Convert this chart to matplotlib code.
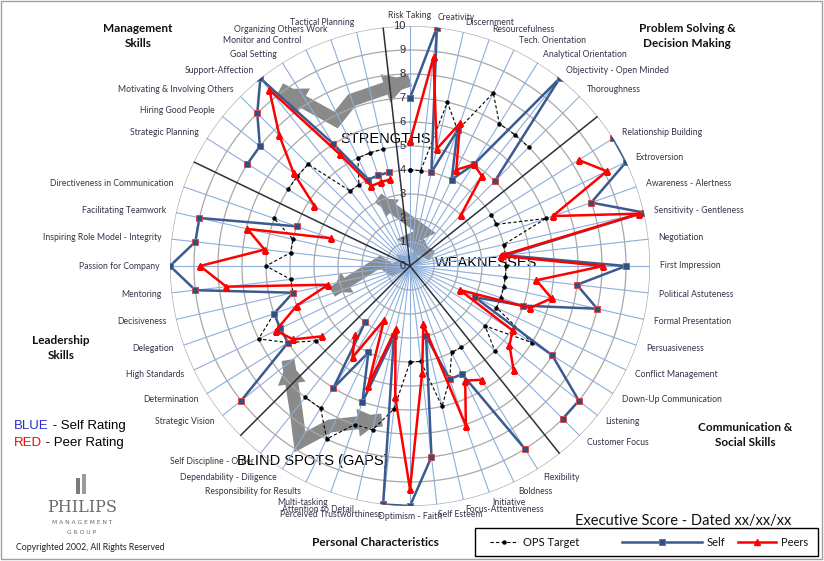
import numpy as np
import matplotlib.pyplot as plt
from matplotlib.patches import Polygon, Rectangle
from matplotlib.lines import Line2D

nan = np.nan

# 56 spokes, the empty ones separate the skill groups
categories = ['Risk Taking', 'Creativity', 'Discernment', 'Resourcefulness', 'Tech. Orientation',
              'Analytical Orientation', 'Objectivity - Open Minded', 'Thoroughness', '',
              'Relationship Building', 'Extroversion', 'Awareness - Alertness', 'Sensitivity - Gentleness',
              'Negotiation', 'First Impression', 'Political Astuteness', 'Formal Presentation',
              'Persuasiveness', 'Conflict Management', 'Down-Up Communication', 'Listening',
              'Customer Focus', '',
              'Flexibility', 'Boldness', 'Initiative', 'Focus-Attentiveness', 'Self Esteem',
              'Optimism - Faith', 'Perceived Trustworthiness', 'Attention to Detail', 'Multi-tasking',
              'Responsibility for Results', 'Dependability - Diligence', 'Self Discipline - Order', '',
              'Strategic Vision', 'Determination', 'High Standards', 'Delegation', 'Decisiveness',
              'Mentoring', 'Passion for Company', 'Inspiring Role Model - Integrity',
              'Facilitating Teamwork', 'Directiveness in Communication', '',
              'Strategic Planning', 'Hiring Good People', 'Motivating & Involving Others',
              'Support-Affection', 'Goal Setting', 'Monitor and Control', 'Organizing Others Work',
              'Tactical Planning', '']

self_rating = [7, 10, 4, 6, 4, 5, 10, 5, nan,
               10, 10, 8, 10, 4, 9, 7, 8, 5, 3, 7, 9, 9, nan,
               9, 5, 5, 3, 8, 10, 10, 3, 6, 4, 6, 3, nan,
               9, 6, 6, 6, 5, 9, 10, 9, 9, 5, nan,
               8, 8, 9, 10, 6, 4, 4, 4, nan]

peer_rating = [5.2, 8.75, 5.0, 6.3, 4.45, 5.0, 4.8, 3.0, nan,
               8.3, 9.1, 6.3, 9.8, 3.8, 8.05, 5.3, 6.05, 5.3, 2.3, 5.05, 5.3, 6.1, nan,
               5.6, 5.3, 7.05, 2.5, 4.5, 9.3, 5.5, 2.7, 5.3, 2.5, 4.5, 3.7, nan,
               4.7, 5.75, 6.2, 5.0, 3.5, 7.7, 8.75, 6.1, 6.95, 3.5, nan,
               4.7, 6.2, 7.7, 9.4, 5.5, 3.7, 3.7, 3.7, nan]

ops_target = [4, 4, 7, 6, 8, 7, 7, 7, nan,
              4, 4, 6, 4, 4, 4, 4, 4, 4, 4, 6, 4, 5, nan,
              4, 4, 5, 6, 4, 4, 6, 7, 7, 8, 7, 7, nan,
              5, 6, 7, 6, 5, 5, 6, 5, 5, 6, nan,
              6, 6, 6, 4, 4, 5, 5, 5, nan]

n = len(categories)
theta = np.arange(n) * 2 * np.pi / n
tt = np.append(theta, theta[0])

def closed(v):
    v = np.asarray(v, dtype=float)
    return np.append(v, v[0])

fig = plt.figure(figsize=(8.24, 5.61), dpi=100)

# overlay in pixel coordinates for decorations and free text
ov = fig.add_axes([0, 0, 1, 1], zorder=0)
ov.set_xlim(0, 824)
ov.set_ylim(561, 0)
ov.axis('off')

cx, cy, R = 410, 266, 240
ax = fig.add_axes([(cx - R) / 824, 1 - (cy + R) / 561, 2 * R / 824, 2 * R / 561],
                  projection='polar', zorder=1)
ax.set_facecolor('none')
ax.set_theta_zero_location('N')
ax.set_theta_direction(-1)
ax.set_ylim(0, 10)
ax.grid(False)
ax.set_xticks([])
ax.set_yticks([])
ax.spines['polar'].set_visible(False)

circ = np.linspace(0, 2 * np.pi, 400)
for r in range(1, 11):
    ax.plot(circ, np.full_like(circ, r), color='#a8a8a8', lw=0.9, zorder=1)
for i, t in enumerate(theta):
    if categories[i]:
        ax.plot([t, t], [0, 10], color='#8eaedb', lw=0.8, zorder=1)
    else:
        ax.plot([t, t], [0, 10], color='#2a313d', lw=1.1, zorder=2)

for v in range(11):
    ax.annotate(str(v), xy=(0, v), xytext=(-3, 0), textcoords='offset points',
                ha='right', va='center', fontsize=8, color='#2a2a3a', family='Liberation Sans')

for i, t in enumerate(theta):
    if not categories[i]:
        continue
    s = np.sin(t)
    ha = 'center' if abs(s) < 0.03 else ('left' if s > 0 else 'right')
    ax.text(t, 10.42, categories[i], ha=ha, va='center', fontsize=6.2,
            color='#3a3048', family='Lato')

ops_style = dict(color='black', ls=(0, (3, 2)), lw=0.8, marker='o', ms=2.2)
self_style = dict(color='#3a5a90', lw=1.8, marker='s', ms=4.8, mfc='#2f4f85',
                  mec='#d05050', mew=0.7)
peer_style = dict(color='#ff0000', lw=1.8, marker='^', ms=5, mfc='#ff0000', mec='#ff0000')

ax.plot(tt, closed(ops_target), zorder=3, **ops_style)
ax.plot(tt, closed(self_rating), zorder=4, **self_style)
ax.plot(tt, closed(peer_rating), zorder=5, **peer_style)

# gray "lightning" arrows
GRAY = '#8a8a8a'

def bolt(pts, w=11, head=(24, 20), both=True):
    pts = np.array(pts, dtype=float)
    ov.plot(pts[:, 0], pts[:, 1], color=GRAY, lw=w * 0.72, solid_joinstyle='miter',
            solid_capstyle='butt', zorder=1)
    ends = [(pts[-2], pts[-1])]
    if both:
        ends.append((pts[1], pts[0]))
    hw, hl = head
    for a, b in ends:
        d = (b - a) / np.hypot(*(b - a))
        nrm = np.array([-d[1], d[0]])
        base = b - d * hl
        ov.add_patch(Polygon([b, base + nrm * hw / 2, base - nrm * hw / 2],
                             closed=True, fc=GRAY, ec='none', zorder=1))

bolt([(280, 89), (336, 120), (352, 100), (410, 80)], w=13, head=(30, 26))
bolt([(378, 198), (425, 232), (408, 240), (432, 256)], w=11, head=(22, 18))
bolt([(332, 292), (380, 262), (392, 270), (418, 258)], w=11, head=(24, 18))
bolt([(288, 360), (296, 410), (300, 442), (330, 426), (382, 420)], w=13, head=(28, 24))

# section titles
tkw = dict(ha='center', va='center', fontsize=8.5, fontweight='bold', family='Lato', color='#111111')
ov.text(138, 36, 'Management\nSkills', linespacing=1.45, **tkw)
ov.text(687, 36, 'Problem Solving &\nDecision Making', linespacing=1.45, **tkw)
ov.text(61, 348, 'Leadership\nSkills', linespacing=1.45, **tkw)
ov.text(745, 435, 'Communication &\nSocial Skills', linespacing=1.45, **tkw)
ov.text(375, 542, 'Personal Characteristics', **tkw)

bkw = dict(fontsize=10.5, family='Liberation Sans', color='black', va='center', zorder=6)
ov.text(386, 139, 'STRENGTHS', ha='center', **bkw)
ov.text(486, 263, 'WEAKNESSES', ha='center', **bkw)
ov.text(313, 461, 'BLIND SPOTS (GAPS)', ha='center', **bkw)

lkw = dict(fontsize=9.5, family='Liberation Sans', va='center')
t1 = ov.text(14, 426, 'BLUE', color='#2b2bd0', **lkw)
ov.annotate(' - Self Rating', xycoords=t1, xy=(1, 0.5), va='center', ha='left',
            fontsize=9.5, family='Liberation Sans', color='black')
t2 = ov.text(14, 443, 'RED', color='#ff0000', **lkw)
ov.annotate(' - Peer Rating', xycoords=t2, xy=(1, 0.5), va='center', ha='left',
            fontsize=9.5, family='Liberation Sans', color='black')

ov.text(683, 521, 'Executive Score - Dated xx/xx/xx', ha='center', va='center',
        fontsize=10.5, family='Lato', color='#111111')

# logo block
ov.add_patch(Rectangle((76, 478), 4, 16, fc='#7a7a7a', ec='none'))
ov.add_patch(Rectangle((82, 474), 4, 20, fc='#9a9a9a', ec='none'))
ov.text(82, 507, 'PHILIPS', ha='center', va='center', fontsize=11.5, family='DejaVu Serif',
        color='#6a6a6a')
ov.text(82, 523, 'M A N A G E M E N T', ha='center', va='center', fontsize=4.3,
        family='DejaVu Sans', color='#6a6a6a')
ov.text(82, 533, 'G R O U P', ha='center', va='center', fontsize=4.3,
        family='DejaVu Sans', color='#6a6a6a')
ov.text(90, 548, 'Copyrighted 2002, All Rights Reserved', ha='center', va='center',
        fontsize=6.3, family='Lato', color='#222222')

# page border
ov.add_patch(Rectangle((1, 1), 821, 558, fill=False, ec='#a0a0a0', lw=1))

# legend box, laid out like the spreadsheet key
ov.add_patch(Rectangle((475, 528), 343, 28, fill=False, ec='black', lw=1.0, zorder=6))
keys = [('OPS Target', ops_style, 490, 518), ('Self', self_style, 622, 702),
        ('Peers', peer_style, 738, 776)]
for name, st, x0, x1 in keys:
    kw = dict(st)
    mk = kw.pop('marker')
    ov.add_line(Line2D([x0, x1], [542, 542], zorder=6, **kw))
    ov.add_line(Line2D([(x0 + x1) / 2], [542], marker=mk, ls='none', zorder=7,
                       **{k: v for k, v in st.items() if k in ('color', 'ms', 'mfc', 'mec', 'mew')}))
    ov.text(x1 + 5, 542, name, ha='left', va='center', fontsize=8, family='Lato',
            color='#111111', zorder=7)

fig.savefig('out.png', dpi=100)
